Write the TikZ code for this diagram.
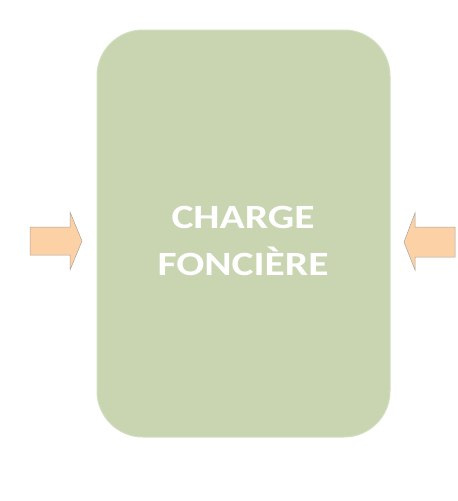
\documentclass[tikz,border=0pt]{standalone}
\usepackage{fontspec}
\setmainfont{Carlito}
\newfontfamily\widefont[FakeStretch=1.22]{Carlito}
\usepackage{tikz}
\usetikzlibrary{positioning}

\definecolor{sagefill}{HTML}{C9D4B1}
\definecolor{sageedge}{HTML}{D3DEC0}
\definecolor{peachfill}{HTML}{FCD1A5}
\definecolor{peachedge}{HTML}{A9A39C}

\tikzset{
    inarrow/.style={fill=peachfill, draw=peachedge, line width=0.5pt, line join=miter},
}

\begin{document}
\begin{tikzpicture}[x=1pt, y=-1pt]

    % PAGE
    \useasboundingbox[fill=white] (0,0) rectangle (458,501);

    % MAIN BLOCK
    \node[draw=sageedge, fill=sagefill, line width=1pt, rounded corners=46pt,
        minimum width=293pt, minimum height=407pt, inner sep=0pt]
        (charge) at (243.5,233.5) {};

    % LABEL
    \node[text=white, font=\widefont\bfseries\fontsize{34}{47}\selectfont,
        align=center, inner sep=0pt] (label) at (243,241)
        {CHARGE\\FONCIÈRE};

    % LEFT ARROW
    \draw[inarrow] (30,227) -- (70,227) -- (70,212) -- (82,241)
        -- (70,270) -- (70,255) -- (30,255) -- cycle;

    % RIGHT ARROW
    \draw[inarrow] (455,227) -- (415,227) -- (415,213) -- (404,242)
        -- (415,270) -- (415,257) -- (455,257) -- cycle;

\end{tikzpicture}
\end{document}
